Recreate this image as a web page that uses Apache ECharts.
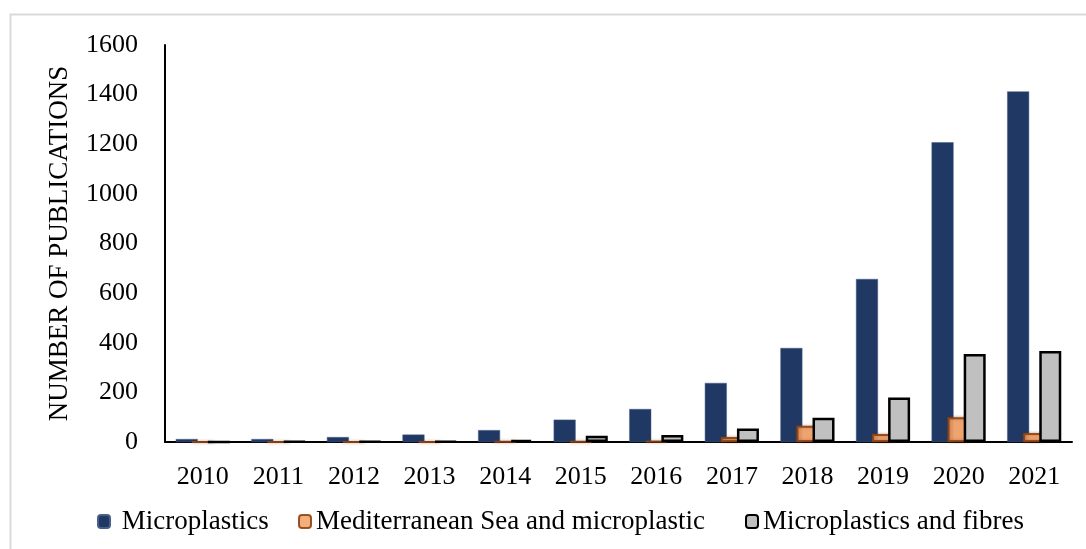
<!DOCTYPE html>
<html><head><meta charset="utf-8">
<script src="https://cdn.jsdelivr.net/npm/echarts@6/dist/echarts.min.js"></script>
<style>html,body{margin:0;padding:0;background:#fff}#c{width:1086px;height:549px}</style>
</head><body><div id="c"></div>
<script>
const years = ['2010','2011','2012','2013','2014','2015','2016','2017','2018','2019','2020','2021'];
const microplastics = [12, 12, 20, 30, 48, 90, 133, 238, 379, 657, 1208, 1413];
const mediterranean = [0, 1, 1, 1, 2, 3, 5, 20, 65, 32, 100, 36];
const fibres = [0, 2, 2, 3, 8, 25, 28, 54, 98, 179, 355, 367];
const seriesNames = ['Microplastics', 'Mediterranean Sea and microplastic', 'Microplastics and fibres'];

const FONT = 'Liberation Serif';
const legendBase = {
  bottom: 14, padding: 0,
  itemWidth: 12, itemHeight: 13,
  textStyle: { fontFamily: FONT, fontSize: 27, color: '#000' }
};
const chart = echarts.init(document.getElementById('c'));
chart.setOption({
  animation: false,
  textStyle: { fontFamily: FONT, color: '#000' },
  graphic: [{
    type: 'polyline', shape: { points: [[10.5, 549], [10.5, 14.5], [1086, 14.5]] },
    style: { stroke: '#d9d9d9', lineWidth: 2, fill: null }, silent: true
  }],
  grid: { left: 165, right: 14, top: 45, bottom: 107 },
  legend: [
    Object.assign({}, legendBase, { left: 97, data: [seriesNames[0]], formatter: ' {name}' }),
    Object.assign({}, legendBase, { left: 298, data: [seriesNames[1]] }),
    Object.assign({}, legendBase, { left: 745, data: [seriesNames[2]] })
  ],
  xAxis: {
    type: 'category', data: years,
    axisLine: { lineStyle: { color: '#000', width: 2 } },
    axisTick: { show: false },
    axisLabel: { fontFamily: FONT, fontSize: 26, color: '#000', margin: 22 }
  },
  yAxis: {
    type: 'value', min: 0, max: 1600, interval: 200,
    name: 'NUMBER OF PUBLICATIONS', nameLocation: 'middle', nameGap: 92, nameRotate: 90,
    nameTextStyle: { fontFamily: FONT, fontSize: 27, color: '#000' },
    axisLine: { show: true, lineStyle: { color: '#000', width: 2 } },
    axisTick: { show: false },
    splitLine: { show: false },
    axisLabel: { fontFamily: FONT, fontSize: 26, color: '#000', margin: 27, formatter: v => String(v) }
  },
  series: [
    { name: seriesNames[0], type: 'bar', data: microplastics, barWidth: 22, barGap: '-27%',
      itemStyle: { color: '#203864', borderColor: '#4a5f88', borderWidth: 0.5 } },
    { name: seriesNames[1], type: 'bar', data: mediterranean, barWidth: 22, barGap: '-27%',
      itemStyle: { color: '#f4a46c', borderColor: '#8e4413', borderWidth: 2, opacity: 0.9,
        shadowColor: 'rgba(120,60,20,0.5)', shadowBlur: 3 } },
    { name: seriesNames[2], type: 'bar', data: fibres, barWidth: 22, barGap: '-27%',
      itemStyle: { color: '#c0c0c0', borderColor: '#000', borderWidth: 2.5 } }
  ]
});
</script></body></html>
